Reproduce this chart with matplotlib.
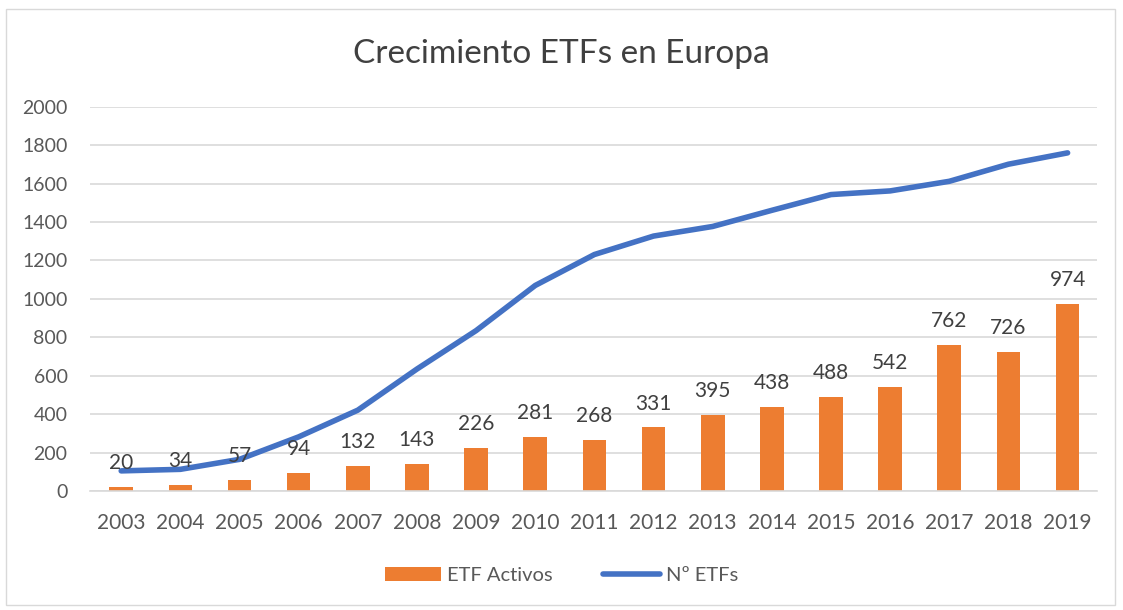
import matplotlib.pyplot as plt
from matplotlib.patches import Rectangle

# Datos
anios = ['2003', '2004', '2005', '2006', '2007', '2008', '2009', '2010', '2011',
         '2012', '2013', '2014', '2015', '2016', '2017', '2018', '2019']
etf_activos = [20, 34, 57, 94, 132, 143, 226, 281, 268, 331, 395, 438, 488, 542, 762, 726, 974]
num_etfs = [105, 113, 165, 282, 421, 635, 835, 1070, 1231, 1327, 1377, 1461, 1543, 1562, 1612, 1701, 1760]

NARANJA = '#ED7D31'
AZUL = '#4472C4'
GRIS_TEXTO = '#404040'

plt.rcParams['font.family'] = ['Lato', 'DejaVu Sans']

fig = plt.figure(figsize=(11.23, 6.10), dpi=100)
fig.patches.append(Rectangle((0.005, 0.008), 0.988, 0.978, transform=fig.transFigure,
                             fill=False, edgecolor='#D9D9D9', linewidth=1))
ax = fig.add_axes([0.080, 0.195, 0.897, 0.630])

x = list(range(len(anios)))
barras = ax.bar(x, etf_activos, width=0.4, color=NARANJA, label='ETF Activos', zorder=2)
linea, = ax.plot(x, num_etfs, color=AZUL, linewidth=4, solid_capstyle='round',
                 label='Nº ETFs', zorder=3)

for xi, v in zip(x, etf_activos):
    ax.annotate(str(v), (xi, v), xytext=(0, 10), textcoords='offset points',
                ha='center', va='bottom', fontsize=15, color=GRIS_TEXTO, zorder=4)

ax.set_xlim(-0.53, 16.5)
ax.set_ylim(0, 2000)
ax.set_yticks(range(0, 2001, 200))
ax.set_xticks(x)
ax.set_xticklabels(anios)
ax.tick_params(axis='both', length=0, colors='#595959')
ax.tick_params(axis='x', pad=16, labelsize=15)
ax.tick_params(axis='y', pad=16, labelsize=14)
ax.grid(axis='y', color='#D9D9D9', linewidth=1.2, zorder=0)
for s in ['top', 'right', 'left']:
    ax.spines[s].set_visible(False)
ax.spines['bottom'].set_color('#D9D9D9')
ax.spines['bottom'].set_linewidth(1.2)

fig.text(0.5, 0.912, 'Crecimiento ETFs en Europa', ha='center', va='center',
         fontsize=24, color=GRIS_TEXTO)

fig.legend([barras, linea], ['ETF Activos', 'Nº ETFs'], loc='center',
           bbox_to_anchor=(0.5, 0.057), ncol=2, frameon=False,
           fontsize=14.5, labelcolor='#595959', handlelength=2.8, columnspacing=2.5,
           handletextpad=0.3)

fig.savefig('out.png', dpi=100)
